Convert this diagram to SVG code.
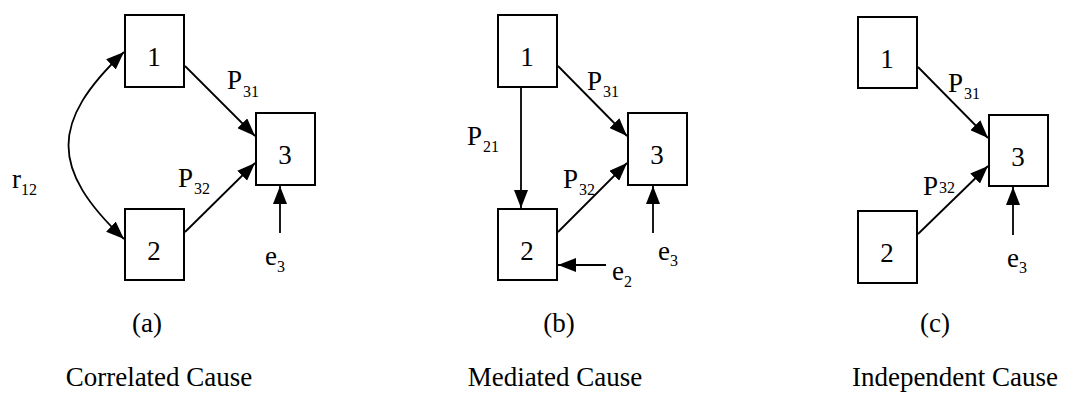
<svg xmlns="http://www.w3.org/2000/svg" width="1066" height="397" viewBox="0 0 1066 397">
  <style>
    text { font-family: "Liberation Serif", "DejaVu Serif", serif; fill: #000; }
    .box { fill: #ffffff; stroke: #000000; stroke-width: 2; }
    .num { font-size: 27px; text-anchor: middle; }
    .lbl { font-size: 27px; }
    .sub { font-size: 16px; }
    .cap { font-size: 27px; text-anchor: middle; }
    .edge { fill: none; stroke: #000000; stroke-width: 1.8; }
  </style>
  <defs>
    <marker id="arrow" viewBox="0 0 18 14" refX="18" refY="7" markerWidth="18" markerHeight="14" markerUnits="userSpaceOnUse" orient="auto-start-reverse">
      <path d="M0,0 L18,7 L0,14 z" fill="#000"/>
    </marker>
  </defs>
  <rect width="1066" height="397" fill="#ffffff"/>

  <!-- Panel (a): correlated cause -->
  <g id="a-node-1"><rect class="box" x="125" y="15" width="59" height="72"/><text class="num" x="154" y="66">1</text></g>
  <g id="a-node-2"><rect class="box" x="125" y="209" width="59" height="71"/><text class="num" x="154" y="260">2</text></g>
  <g id="a-node-3"><rect class="box" x="256" y="113" width="59" height="72"/><text class="num" x="285" y="164">3</text></g>

  <!-- Panel (b): mediated cause -->
  <g id="b-node-1"><rect class="box" x="498" y="15" width="59" height="72"/><text class="num" x="527" y="66">1</text></g>
  <g id="b-node-2"><rect class="box" x="498" y="209" width="59" height="71"/><text class="num" x="527" y="260">2</text></g>
  <g id="b-node-3"><rect class="box" x="628" y="113" width="59" height="72"/><text class="num" x="657" y="164">3</text></g>

  <!-- Panel (c): independent cause -->
  <g id="c-node-1"><rect class="box" x="858" y="17" width="59" height="71"/><text class="num" x="887" y="68">1</text></g>
  <g id="c-node-2"><rect class="box" x="858" y="211" width="59" height="72"/><text class="num" x="887" y="262">2</text></g>
  <g id="c-node-3"><rect class="box" x="989" y="115" width="59" height="71"/><text class="num" x="1018" y="166">3</text></g>

  <g id="connectors">
    <!-- (a): two-headed correlation curve and paths into 3 -->
    <path class="edge" d="M124,52 C50,122 50,169 124,239" marker-start="url(#arrow)" marker-end="url(#arrow)"/>
    <line class="edge" x1="185" y1="66" x2="255" y2="136" marker-end="url(#arrow)"/>
    <line class="edge" x1="185" y1="232" x2="255" y2="163" marker-end="url(#arrow)"/>
    <line class="edge" x1="280" y1="233" x2="280" y2="186" marker-end="url(#arrow)"/>
    <!-- (b) -->
    <line class="edge" x1="521" y1="88" x2="521" y2="208" marker-end="url(#arrow)"/>
    <line class="edge" x1="558" y1="66" x2="627" y2="136" marker-end="url(#arrow)"/>
    <line class="edge" x1="558" y1="232" x2="627" y2="163" marker-end="url(#arrow)"/>
    <line class="edge" x1="653" y1="233" x2="653" y2="186" marker-end="url(#arrow)"/>
    <line class="edge" x1="606" y1="265" x2="558" y2="265" marker-end="url(#arrow)"/>
    <!-- (c) -->
    <line class="edge" x1="918" y1="67" x2="988" y2="138" marker-end="url(#arrow)"/>
    <line class="edge" x1="918" y1="234" x2="988" y2="166" marker-end="url(#arrow)"/>
    <line class="edge" x1="1013" y1="235" x2="1013" y2="187" marker-end="url(#arrow)"/>
  </g>

  <g id="labels">
    <!-- (a) -->
    <text class="lbl" x="12" y="188">r<tspan class="sub" dy="7">12</tspan></text>
    <text class="lbl" x="227" y="89">P<tspan class="sub" dx="1" dy="8">31</tspan></text>
    <text class="lbl" x="178" y="187">P<tspan class="sub" dx="1" dy="7">32</tspan></text>
    <text class="lbl" x="265" y="265">e<tspan class="sub" dy="7">3</tspan></text>
    <!-- (b) -->
    <text class="lbl" x="467" y="145">P<tspan class="sub" dx="1" dy="7">21</tspan></text>
    <text class="lbl" x="587" y="90">P<tspan class="sub" dx="1" dy="7">31</tspan></text>
    <text class="lbl" x="563" y="188">P<tspan class="sub" dx="1" dy="7">32</tspan></text>
    <text class="lbl" x="658" y="260">e<tspan class="sub" dy="6">3</tspan></text>
    <text class="lbl" x="612" y="280">e<tspan class="sub" dy="7">2</tspan></text>
    <!-- (c) -->
    <text class="lbl" x="948" y="92">P<tspan class="sub" dx="1" dy="7">31</tspan></text>
    <text class="lbl" x="923" y="195">P<tspan class="sub" dx="1" dy="-2">32</tspan></text>
    <text class="lbl" x="1007" y="267">e<tspan class="sub" dy="6">3</tspan></text>
  </g>

  <g id="captions">
    <text class="cap" x="147" y="332">(a)</text>
    <text class="cap" x="559" y="332">(b)</text>
    <text class="cap" x="935" y="332">(c)</text>
    <text class="cap" x="159" y="386">Correlated Cause</text>
    <text class="cap" x="555" y="386">Mediated Cause</text>
    <text class="cap" x="955" y="386">Independent Cause</text>
  </g>
</svg>
